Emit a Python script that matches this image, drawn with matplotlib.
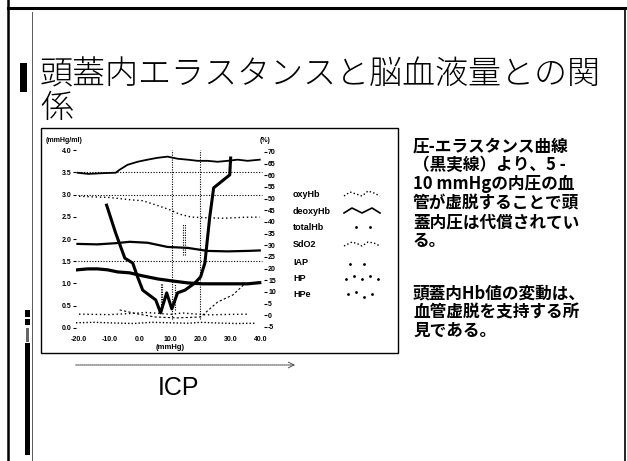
import matplotlib
matplotlib.use("Agg")
import matplotlib.pyplot as plt
from matplotlib.patches import Rectangle

JP = ["Noto Sans CJK JP", "DejaVu Sans"]
LAT = ["Liberation Sans", "DejaVu Sans"]

# ---------------- data ----------------
# pressure-elastance curve (mmHg/ml) against ICP (mmHg)
elast_x = [-10.9, -7.9, -4.9, -2.3, -0.7, 1.0, 5.3, 6.9, 8.9, 10.6, 12.5,
           14.9, 18.2, 20.1, 21.5, 23.1, 24.4, 29.7, 30.0]
elast_y = [2.76, 2.13, 1.57, 1.46, 1.15, 0.85, 0.63, 0.34, 0.79, 0.43, 0.79,
           0.85, 1.01, 1.15, 1.46, 2.49, 3.15, 3.44, 3.82]

# haemoglobin / saturation / pressure traces (%)
oxy_x = [-20.5, -17.0, -13.9, -10.5, -7.9, -6.6, -4.0, -0.7, 2.6, 5.9, 9.2,
         12.5, 15.8, 19.1, 22.4, 25.7, 29.0, 32.3, 35.6, 39.6]
oxy_y = [61.1, 60.6, 60.8, 61.0, 61.1, 62.4, 64.5, 65.8, 66.7, 67.5, 68.0,
         67.1, 66.7, 66.2, 66.2, 65.8, 66.2, 66.7, 66.2, 66.7]

deoxy_x = [-20.5, -17.2, -13.9, -10.6, -7.3, -3.3, 1.0, 5.9, 10.9, 15.8,
           20.8, 25.7, 30.7, 35.6, 39.6]
deoxy_y = [19.5, 19.9, 19.9, 19.5, 18.6, 18.2, 16.9, 15.6, 14.7, 13.9,
           13.5, 13.5, 13.5, 13.5, 14.0]

total_x = [-20.0, -10.0, -3.0, 1.0, 6.0, 10.0, 13.0, 17.0, 22.0, 28.0, 34.0, 39.6]
total_y = [51.0, 50.5, 49.5, 49.1, 47.0, 45.2, 43.4, 42.1, 41.8, 41.6, 42.0, 42.1]

sdo2_x = [-20.5, -14.0, -8.0, -3.3, 2.6, 9.2, 15.8, 22.4, 29.0, 35.6, 39.6]
sdo2_y = [30.6, 30.4, 30.9, 31.5, 31.1, 29.3, 28.9, 27.6, 27.4, 27.6, 27.8]

iap_x = [-21.0, -15.0, -8.0, -2.0, 4.0, 10.0, 16.0, 20.0, 26.0, 32.0, 38.0]
iap_y = [-3.2, -3.0, -3.3, -3.5, -3.0, -3.2, -3.4, -3.0, -3.3, -3.5, -3.4]

hp_x = [-20.0, -10.0, -3.0, 2.0, 6.0, 10.0, 14.0, 18.0, 22.0, 30.0, 36.0]
hp_y = [0.5, 0.3, 0.8, 1.2, 0.9, 0.4, 1.0, 0.6, 0.2, 0.4, 0.5]

hpe_x = [-6.6, -0.7, 5.0, 12.5, 20.1, 25.7, 30.7, 35.0]
hpe_y = [2.3, 0.6, -0.7, -1.1, -0.7, 5.7, 8.7, 13.9]

# reference markers on the ICP axis: (x, y_from, y_to) in mmHg/ml
ref_lines = [(10.5, 0.2, 4.0), (20.0, 0.2, 4.0), (14.3, 1.64, 2.34),
             (14.9, 1.64, 2.34), (6.9, 0.47, 1.01), (7.4, 0.47, 1.01),
             (11.7, 0.40, 1.01)]
grid_levels = [3.5, 3.0, 1.5]

x_ticks = [-20, -10, 0, 10, 20, 30, 40]
left_ticks = [0.0, 0.5, 1.0, 1.5, 2.0, 2.5, 3.0, 3.5, 4.0]
right_ticks = [-5, 0, 5, 10, 15, 20, 25, 30, 35, 40, 45, 50, 55, 60, 65, 70]

legend_labels = ["oxyHb", "deoxyHb", "totalHb", "SdO2", "IAP", "HP", "HPe"]

title_lines = ["頭蓋内エラスタンスと脳血液量との関", "係"]
note_lines = ["圧-エラスタンス曲線", "（黒実線）より、5 -", "10 mmHgの内圧の血",
              "管が虚脱することで頭", "蓋内圧は代償されてい", "る。"]
note2_lines = ["頭蓋内Hb値の変動は、", "血管虚脱を支持する所", "見である。"]

# ---------------- figure ----------------
W, H = 627, 461
fig = plt.figure(figsize=(W / 100, H / 100), dpi=100)
fig.patch.set_facecolor("white")

bg = fig.add_axes([0, 0, 1, 1])
bg.set_xlim(0, W)
bg.set_ylim(H, 0)
bg.axis("off")

# slide frame
bg.plot([8, 8], [0, H], color="black", lw=1.8)
bg.plot([8, 625], [8.5, 8.5], color="black", lw=2.2)
bg.plot([624.5, 624.5], [8, H], color="black", lw=1.2)
bg.plot([32, 32], [12, H], color="0.35", lw=0.7)
bg.add_patch(Rectangle((25, 343), 4.5, 112, color="black", lw=0))
bg.add_patch(Rectangle((25, 310), 4.5, 7, color="black", lw=0))
bg.add_patch(Rectangle((25, 319), 4.5, 6, color="black", lw=0))
bg.add_patch(Rectangle((26, 328), 2.5, 14, color="0.4", lw=0))

# title
bg.add_patch(Rectangle((20, 63), 7, 29, color="black", lw=0))
bg.text(40, 75, title_lines[0], family=JP, fontsize=23.8, va="center",
        ha="left", weight="light")
bg.text(40, 109, title_lines[1], family=JP, fontsize=23.8, va="center",
        ha="left", weight="light")

# chart box
bg.add_patch(Rectangle((40.5, 127.5), 357.5, 225.5, fill=False,
                       edgecolor="black", lw=1.0))

# notes on the right
for i, s in enumerate(note_lines):
    bg.text(413, 146 + i * 19, s, family=JP, fontsize=12, va="center",
            ha="left", weight="bold")
for i, s in enumerate(note2_lines):
    bg.text(413, 293 + i * 19, s, family=JP, fontsize=12, va="center",
            ha="left", weight="bold")

# ICP arrow and label
bg.annotate("", xy=(298, 365), xytext=(73, 365),
            arrowprops=dict(arrowstyle="->", linestyle=(0, (1, 0.8)),
                            lw=0.8, color="0.35"))
bg.text(178, 388, "ICP", family=LAT, fontsize=18, ha="center", va="center")

# ---------------- plot axes ----------------
ax = fig.add_axes([76 / W, (H - 330) / H, 188 / W, 182 / H])
ax.set_xlim(-21, 41)
ax.set_ylim(-0.045, 4.045)
ax.patch.set_alpha(0)
for sp in ax.spines.values():
    sp.set_visible(False)
ax2 = ax.twinx()
ax2.set_ylim(-6.29, 71.7)
for sp in ax2.spines.values():
    sp.set_visible(False)

tick_font = dict(family=LAT, size=5, weight="bold")
ax.set_xticks(x_ticks)
ax.set_xticklabels([f"{v:.1f}" for v in x_ticks], fontdict=tick_font)
ax.tick_params(axis="x", length=0, pad=4)
ax.set_yticks(left_ticks)
ax.set_yticklabels([f"{v:.1f}" for v in left_ticks], fontdict=tick_font)
ax.tick_params(axis="y", length=2.5, width=0.8, pad=1)
ax2.set_yticks(right_ticks)
ax2.set_yticklabels([str(v) for v in right_ticks], fontdict=tick_font)
ax2.tick_params(axis="y", length=2, width=0.8, pad=1)

ax.text(-25, 4.22, "(mmHg/ml)", fontdict=tick_font, ha="center", va="center")
ax2.text(41.5, 75.0, "(%)", fontdict=tick_font, ha="center", va="center")
ax.set_xlabel("(mmHg)", fontdict=dict(family=LAT, size=5.5, weight="bold"),
              labelpad=1)

# grid and reference markers
for g in grid_levels:
    ax.hlines(g, -20.5, 40.5, colors="black", linestyles=(0, (1, 1.5)), lw=0.8)
for x, y0, y1 in ref_lines:
    ax.vlines(x, y0, y1, colors="black", linestyles=(0, (1, 1.2)), lw=0.8)

# traces
ax2.plot(oxy_x, oxy_y, color="black", lw=1.3)
ax2.plot(deoxy_x, deoxy_y, color="black", lw=2.3)
ax2.plot(total_x, total_y, color="black", lw=1.0, linestyle=(0, (1, 2)))
ax2.plot(sdo2_x, sdo2_y, color="black", lw=1.6)
ax2.plot(iap_x, iap_y, color="black", lw=1.0, linestyle=(0, (1, 1.5)))
ax2.plot(hp_x, hp_y, color="black", lw=1.0, linestyle=(0, (1, 2)))
ax2.plot(hpe_x, hpe_y, color="black", lw=0.8, linestyle=(0, (2, 2)))
ax.plot(elast_x, elast_y, color="black", lw=2.2, zorder=5)

# legend block
leg_y = [194, 211, 227, 244, 262, 278, 294]
for lab, y in zip(legend_labels, leg_y):
    bg.text(293, y, lab, family=LAT, fontsize=6.5, weight="bold",
            ha="left", va="center")
bg.plot([344, 350, 356, 362, 368, 374, 380],
        [leg_y[0] + 2, leg_y[0] - 2, leg_y[0], leg_y[0] + 2, leg_y[0] - 3,
         leg_y[0] - 1, leg_y[0] + 2], color="black", lw=1, linestyle=":")
bg.plot([344, 352, 362, 372, 380],
        [leg_y[1] + 2, leg_y[1] - 3, leg_y[1] + 2, leg_y[1] - 3, leg_y[1] + 2],
        color="black", lw=1.2)
bg.plot([356, 370], [leg_y[2], leg_y[2]], "k.", ms=2)
bg.plot([344, 352, 358, 362, 368, 374, 380],
        [leg_y[3] + 2, leg_y[3] - 2, leg_y[3], leg_y[3] + 2, leg_y[3] - 2,
         leg_y[3] - 1, leg_y[3] + 2], color="black", lw=1, linestyle=":")
bg.plot([350, 364], [leg_y[4] + 2, leg_y[4] + 2], "k.", ms=2)
bg.plot([346, 354, 362, 370, 378],
        [leg_y[5] + 1, leg_y[5] - 2, leg_y[5] + 1, leg_y[5] - 2, leg_y[5] + 1],
        "k.", ms=2)
bg.plot([348, 356, 364, 372],
        [leg_y[6], leg_y[6] - 2, leg_y[6] + 3, leg_y[6]], "k.", ms=2)

fig.savefig("out.png", dpi=100, facecolor="white")
